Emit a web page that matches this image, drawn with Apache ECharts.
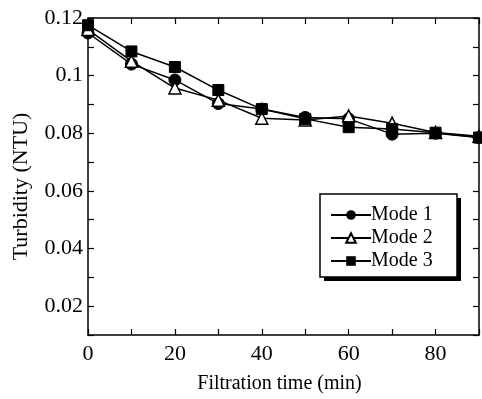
<!DOCTYPE html>
<html>
<head>
<meta charset="utf-8">
<script src="https://cdn.jsdelivr.net/npm/echarts@6/dist/echarts.min.js"></script>
<style>
  html, body { margin: 0; padding: 0; background: #fff; }
  #main { width: 482px; height: 399px; }
</style>
</head>
<body>
<div id="main"></div>
<script>
var times = [0, 10, 20, 30, 40, 50, 60, 70, 80, 90];
var mode1 = [0.1148, 0.1040, 0.0985, 0.0903, 0.0884, 0.0855, 0.0850, 0.0797, 0.0800, 0.0785];
var mode2 = [0.1160, 0.1050, 0.0957, 0.0915, 0.0852, 0.0846, 0.0860, 0.0835, 0.0803, 0.0790];
var mode3 = [0.1175, 0.1084, 0.1030, 0.0950, 0.0884, 0.0850, 0.0821, 0.0815, 0.0802, 0.0785];

var font = '"Liberation Serif", "DejaVu Serif", serif';

function pairs(arr) {
    return times.map(function (t, i) { return [t, arr[i]]; });
}

function xAxisOf(pos, extra) {
    return Object.assign({
        type: 'value', min: 0, max: 90, interval: 10, position: pos,
        axisLine: { show: true, onZero: false, lineStyle: { color: '#000', width: 1.5 } },
        axisTick: { show: true, inside: true, length: 6, lineStyle: { color: '#000', width: 1.2 } },
        axisLabel: { show: false },
        splitLine: { show: false }
    }, extra || {});
}
function yAxisOf(pos, extra) {
    return Object.assign({
        type: 'value', min: 0.01, max: 0.12, interval: 0.01, position: pos,
        axisLine: { show: true, onZero: false, lineStyle: { color: '#000', width: 1.5 } },
        axisTick: { show: true, inside: true, length: 6, lineStyle: { color: '#000', width: 1.2 } },
        axisLabel: { show: false },
        splitLine: { show: false }
    }, extra || {});
}

var chart = echarts.init(document.getElementById('main'));

chart.setOption({
    animation: false,
    grid: { left: 88, top: 18, right: 2, bottom: 64 },
    graphic: [
        { type: 'rect', shape: { x: 324, y: 198, width: 137, height: 83 }, style: { fill: '#000' }, z: 5 },
        { type: 'rect', shape: { x: 320, y: 194, width: 137, height: 83 },
          style: { fill: '#fff', stroke: '#000', lineWidth: 1.5 }, z: 6 }
    ],
    legend: {
        left: 330, top: 205,
        orient: 'vertical',
        itemWidth: 40, itemHeight: 12, itemGap: 3,
        padding: 0,
        z: 10,
        textStyle: { fontFamily: font, fontSize: 20, color: '#000', padding: [0, 0, 0, -5] },
        data: ['Mode 1', 'Mode 2', 'Mode 3']
    },
    xAxis: [
        xAxisOf('bottom', {
            name: 'Filtration time (min)', nameLocation: 'middle', nameGap: 39,
            nameTextStyle: { fontFamily: font, fontSize: 20, color: '#000', padding: [0, 8, 0, 0] },
            axisLabel: {
                show: true, fontFamily: font, fontSize: 22, color: '#000', margin: 8,
                formatter: function (v) { return v % 20 === 0 ? String(v) : ''; }
            }
        }),
        xAxisOf('top')
    ],
    yAxis: [
        yAxisOf('left', {
            name: 'Turbidity (NTU)', nameLocation: 'middle', nameGap: 56,
            nameTextStyle: { fontFamily: font, fontSize: 22, color: '#000', padding: [0, 20, 0, 0] },
            axisLabel: {
                show: true, fontFamily: font, fontSize: 22, color: '#000', margin: 5,
                formatter: function (v) {
                    var k = Math.round(v * 100);
                    return k % 2 === 0 ? String(k / 100) : '';
                }
            }
        }),
        yAxisOf('right')
    ],
    series: [
        {
            name: 'Mode 1', type: 'line', data: pairs(mode1),
            symbol: 'circle', symbolSize: 12,
            lineStyle: { color: '#000', width: 1.5 },
            itemStyle: { color: '#000', borderColor: '#000' }
        },
        {
            name: 'Mode 2', type: 'line', data: pairs(mode2),
            symbol: 'triangle', symbolSize: 12,
            lineStyle: { color: '#000', width: 1.5 },
            itemStyle: { color: '#fff', borderColor: '#000', borderWidth: 1.5 }
        },
        {
            name: 'Mode 3', type: 'line', data: pairs(mode3),
            symbol: 'rect', symbolSize: 11,
            lineStyle: { color: '#000', width: 1.5 },
            itemStyle: { color: '#000', borderColor: '#000' }
        }
    ]
});
</script>
</body>
</html>
